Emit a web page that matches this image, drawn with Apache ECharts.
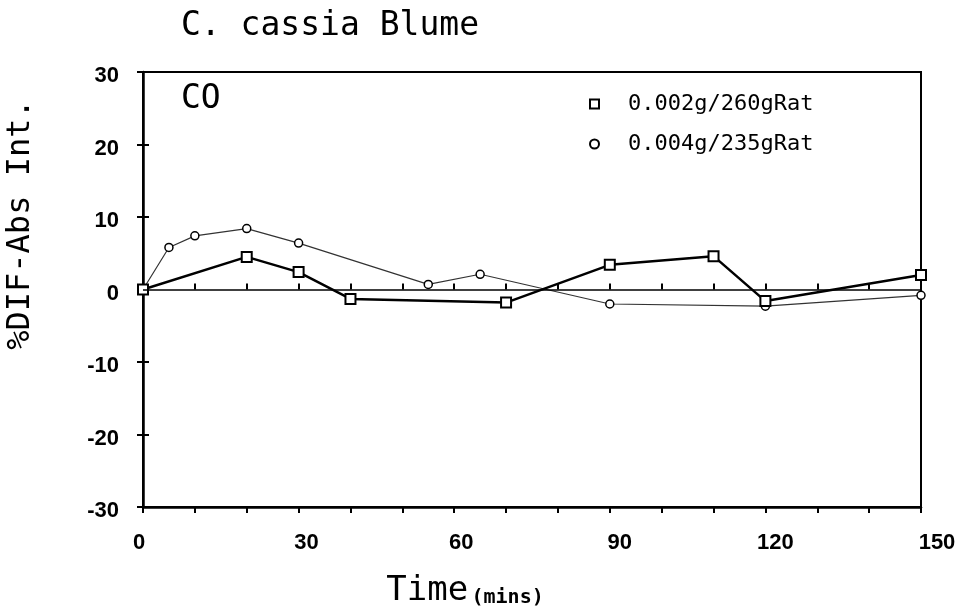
<!DOCTYPE html>
<html><head><meta charset="utf-8">
<script src="https://cdn.jsdelivr.net/npm/echarts@6/dist/echarts.min.js"></script>
<style>html,body{margin:0;padding:0;background:#fff}#c{width:965px;height:608px}</style>
</head><body><div id="c"></div>
<script>
// Data
const seriesNames = ['0.002g/260gRat', '0.004g/235gRat'];
const squareTimes = [0, 20, 30, 40, 70, 90, 110, 120, 150];
const squareValues = [0, 4.5, 2.4, -1.3, -1.8, 3.4, 4.6, -1.6, 2.0];
const circleTimes = [0, 5, 10, 20, 30, 55, 65, 90, 120, 150];
const circleValues = [0, 5.8, 7.4, 8.4, 6.4, 0.7, 2.1, -2.0, -2.3, -0.8];
const xLabelTicks = [0, 30, 60, 90, 120, 150];
const yTickLabels = [-30, -20, -10, 0, 10, 20, 30];

const pairs = (xs, ys) => xs.map((x, i) => [x, ys[i]]);
const labelFont = { fontFamily: 'Liberation Sans', fontWeight: 'bold', fontSize: 22, color: '#000' };

// The plotter drew the x tick labels slightly to the right of their ticks.
const xLabelShift = { 0: -4, 30: 8, 60: 7, 90: 10, 120: 10, 150: 16 };
const xRich = {};
xLabelTicks.forEach(v => {
  const s = xLabelShift[v];
  xRich['l' + v] = Object.assign({ padding: s >= 0 ? [0, 0, 0, 2 * s] : [0, -2 * s, 0, 0] }, labelFont);
});
// ...and the y tick labels slightly below their ticks.
const yRich = { t: Object.assign({ padding: [8, 0, 0, 0] }, labelFont) };

const chart = echarts.init(document.getElementById('c'), null, { renderer: 'canvas' });
chart.setOption({
  animation: false,
  backgroundColor: '#fff',
  title: [
    { text: 'C. cassia Blume', left: 176, top: 5,
      textStyle: { fontFamily: 'DejaVu Sans Mono', fontWeight: 'normal', fontSize: 33, color: '#000' } },
    { text: 'CO', left: 176, top: 78,
      textStyle: { fontFamily: 'DejaVu Sans Mono', fontWeight: 'normal', fontSize: 33, color: '#000' } }
  ],
  legend: {
    orient: 'vertical', left: 589, top: 93, padding: 0, itemGap: 18, itemWidth: 9, itemHeight: 9,
    textStyle: { fontFamily: 'DejaVu Sans Mono', fontSize: 22, color: '#000', padding: [0, 0, 0, 24] },
    data: [
      { name: seriesNames[0], icon: 'rect', itemStyle: { color: '#fff', borderColor: '#000', borderWidth: 2 } },
      { name: seriesNames[1], icon: 'circle', itemStyle: { color: '#fff', borderColor: '#000', borderWidth: 2 } }
    ]
  },
  grid: { left: 143, right: 44, top: 72, bottom: 101, outerBoundsMode: 'none', containLabel: false,
    show: true, borderColor: '#000', borderWidth: 2, backgroundColor: 'transparent' },
  xAxis: [
    { type: 'value', min: 0, max: 150, interval: 10, position: 'bottom',
      name: '{a|Time} {b|(mins)}', nameLocation: 'middle', nameGap: 67,
      nameTextStyle: { padding: [0, 134, 0, 0],
        rich: { a: { fontFamily: 'DejaVu Sans Mono', fontSize: 34, color: '#000' },
                b: { fontFamily: 'DejaVu Sans Mono', fontWeight: 'bold', fontSize: 20, color: '#000', verticalAlign: 'bottom' } } },
      axisLine: { show: true, onZero: false, lineStyle: { color: '#000', width: 2.5 } },
      axisTick: { show: true, inside: false, length: 6, lineStyle: { color: '#000', width: 2 } },
      axisLabel: Object.assign({ margin: 25, rich: xRich,
        formatter: v => xLabelTicks.includes(v) ? '{l' + v + '|' + v + '}' : '' }, labelFont),
      splitLine: { show: false } },
    { type: 'value', min: 0, max: 150, interval: 10, position: 'bottom', offset: 0,
      axisLine: { show: false }, axisLabel: { show: false }, splitLine: { show: false },
      axisTick: { show: true, inside: true, length: 6, lineStyle: { color: '#000', width: 2 } } }
  ],
  yAxis: [
    { type: 'value', min: -30, max: 30, interval: 10, position: 'left',
      name: '%DIF-Abs Int.', nameLocation: 'middle', nameRotate: 90, nameGap: 106,
      nameTextStyle: { fontFamily: 'DejaVu Sans Mono', fontSize: 32, color: '#000', padding: [0, 0, 0, 130] },
      axisLine: { show: true, onZero: false, lineStyle: { color: '#000', width: 2.5 } },
      axisTick: { show: true, inside: false, length: 6, lineStyle: { color: '#000', width: 2 } },
      axisLabel: Object.assign({ margin: 24, rich: yRich,
        formatter: v => yTickLabels.includes(v) ? '{t|' + v + '}' : '' }, labelFont),
      splitLine: { show: false } },
    { type: 'value', min: -30, max: 30, interval: 10, position: 'left', offset: 0,
      axisLine: { show: false }, axisLabel: { show: false }, splitLine: { show: false },
      axisTick: { show: true, inside: true, length: 6, lineStyle: { color: '#000', width: 2 } } }
  ],
  series: [
    { name: seriesNames[0], type: 'line', xAxisIndex: 0, yAxisIndex: 0,
      data: pairs(squareTimes, squareValues),
      symbol: 'rect', symbolSize: 10,
      itemStyle: { color: '#fff', borderColor: '#000', borderWidth: 2 },
      lineStyle: { color: '#000', width: 2.5 },
      markLine: { silent: true, symbol: 'none', label: { show: false },
        lineStyle: { color: '#000', width: 1.5, type: 'solid' }, data: [{ yAxis: 0 }] },
      z: 3 },
    { name: seriesNames[1], type: 'line', xAxisIndex: 0, yAxisIndex: 0,
      data: pairs(circleTimes, circleValues),
      symbol: 'circle', symbolSize: 8,
      itemStyle: { color: '#fff', borderColor: '#000', borderWidth: 1.5 },
      lineStyle: { color: '#333', width: 1.2 },
      z: 2 }
  ]
});
</script>
</body></html>
